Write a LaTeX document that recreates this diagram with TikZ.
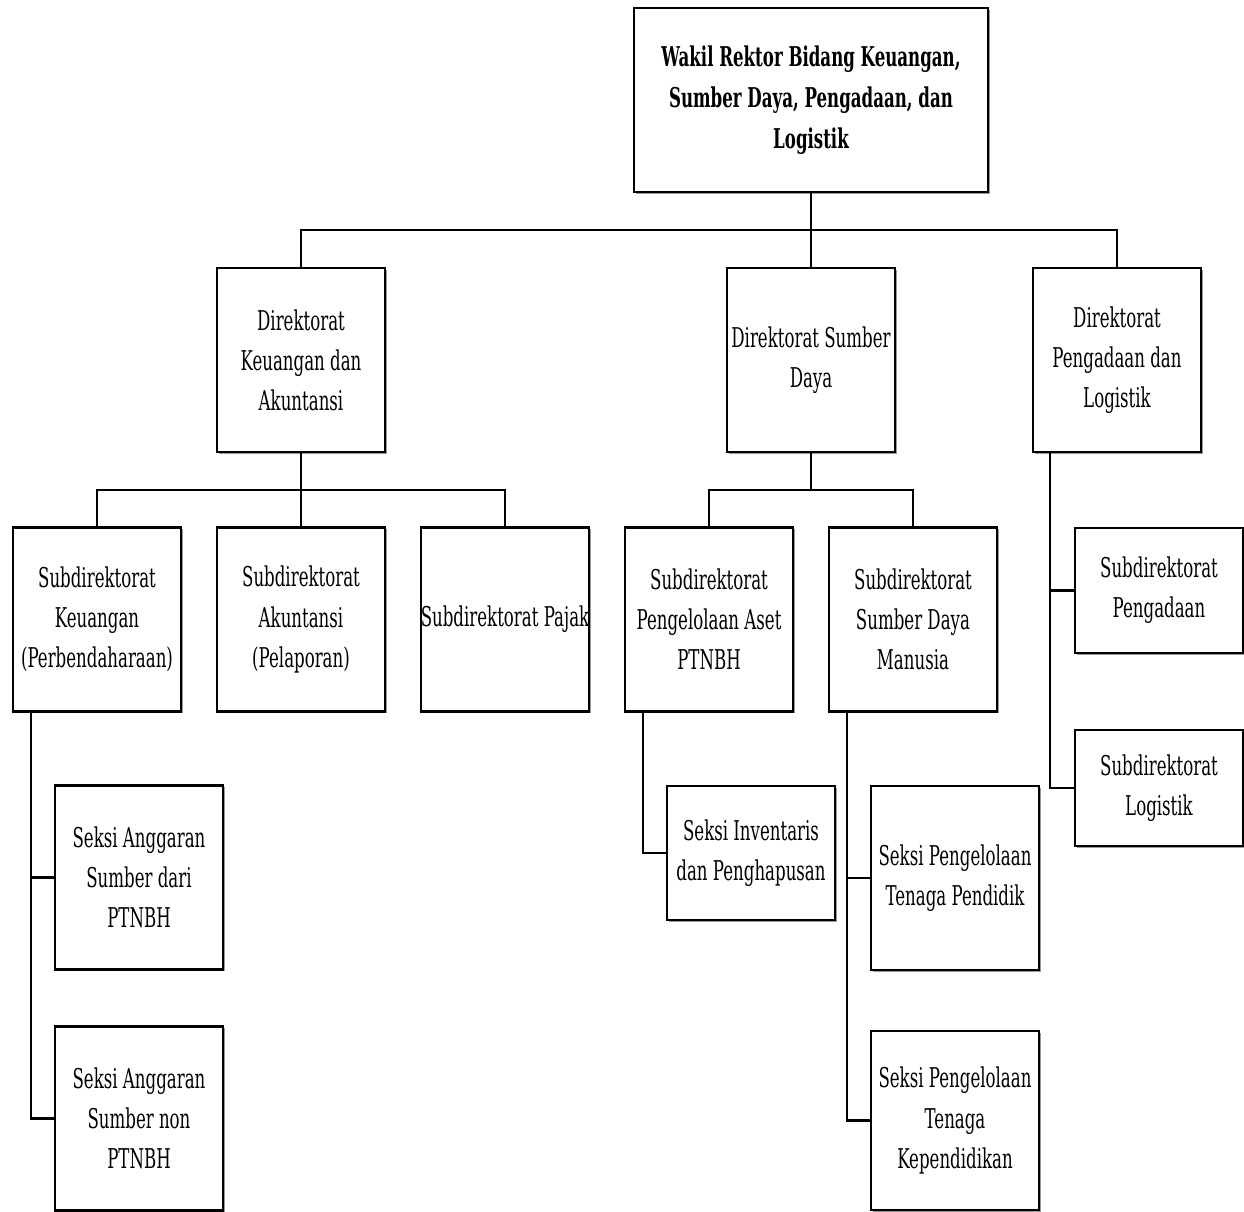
\documentclass[tikz,border=0pt]{standalone}
\usepackage{fontspec}
\setmainfont{DejaVu Serif}[FakeStretch=0.61]
\usetikzlibrary{shadows}
\begin{document}
\begin{tikzpicture}[x=0.02cm, y=-0.02cm, line width=1.3pt,
    box/.style={draw, fill=white, align=center, inner sep=0pt, minimum width=3.36cm, minimum height=3.68cm,
        font=\fontsize{15.5}{22.8}\selectfont, drop shadow={shadow xshift=0.9pt, shadow yshift=-0.9pt, fill=gray!80, opacity=1}},
    link/.style={line width=1.3pt}]
            \useasboundingbox (0,0) rectangle (1244,1212);
            \node [box, minimum width=7.08cm, font=\bfseries\fontsize{15.5}{23.3}\selectfont] (wr) at (811,100) {Wakil Rektor Bidang Keuangan,\\Sumber Daya, Pengadaan, dan\\Logistik};
            \node [box] (dka) at (301,360) {Direktorat\\Keuangan dan\\Akuntansi};
            \node [box] (dsd) at (811,360) {Direktorat Sumber\\Daya};
            \node [box] (dpl) at (1117,360) {Direktorat\\Pengadaan dan\\Logistik};
            \node [box] (sk) at (97,619.5) {Subdirektorat\\Keuangan\\(Perbendaharaan)};
            \node [box] (sa) at (301,619.5) {Subdirektorat\\Akuntansi\\(Pelaporan)};
            \node [box] (sp) at (505,619.5) {Subdirektorat Pajak};
            \node [box] (spa) at (709,619.5) {Subdirektorat\\Pengelolaan Aset\\PTNBH};
            \node [box] (ssdm) at (913,619.5) {Subdirektorat\\Sumber Daya\\Manusia};
            \node [box, minimum height=2.5cm] (speng) at (1159,590.5) {Subdirektorat\\Pengadaan};
            \node [box, minimum height=2.32cm] (slog) at (1159,788) {Subdirektorat\\Logistik};
            \node [box] (sas) at (139,877.5) {Seksi Anggaran\\Sumber dari\\PTNBH};
            \node [box] (san) at (139,1118.5) {Seksi Anggaran\\Sumber non\\PTNBH};
            \node [box, minimum height=2.68cm] (si) at (751,853) {Seksi Inventaris\\dan Penghapusan};
            \node [box] (sptp) at (955,878) {Seksi Pengelolaan\\Tenaga Pendidik};
            \node [box, minimum height=3.58cm] (sptk) at (955,1120.5) {Seksi Pengelolaan\\Tenaga\\Kependidikan};
            \coordinate (bus1) at (811,230);
            \coordinate (bus2) at (301,490);
            \coordinate (bus3) at (811,490);
            \coordinate (dpltap) at (1050,452);
            \coordinate (sktap) at (31,711);
            \coordinate (spatap) at (643,711);
            \coordinate (ssdmtap) at (847,711);
            \draw [link] (wr.south) -- (dsd.north);
            \draw [link] (dka.north) |- (bus1) -| (dpl.north);
            \draw [link] (dka.south) -- (sa.north);
            \draw [link] (sk.north) |- (bus2) -| (sp.north);
            \draw [link] (dsd.south) -- (bus3);
            \draw [link] (spa.north) |- (bus3) -| (ssdm.north);
            \draw [link] (dpltap) |- (speng.west);
            \draw [link] (dpltap) |- (slog.west);
            \draw [link] (sktap) |- (sas.west);
            \draw [link] (sktap) |- (san.west);
            \draw [link] (spatap) |- (si.west);
            \draw [link] (ssdmtap) |- (sptp.west);
            \draw [link] (ssdmtap) |- (sptk.west);
        \end{tikzpicture}
\end{document}
